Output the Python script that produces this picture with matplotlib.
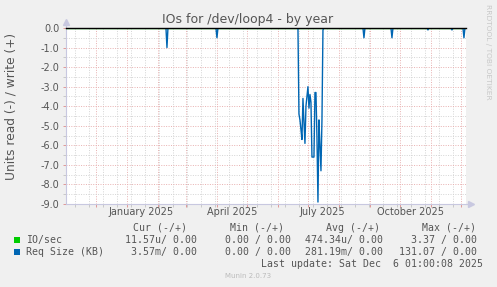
#IOs for /dev/loop4 - by year (munin style)

import numpy as np
import matplotlib.pyplot as plt

#data: daily values of the read side (drawn negative)
req_dates = ['2024-11-01', '2025-02-09', '2025-02-10', '2025-02-11',
             '2025-03-31', '2025-04-01', '2025-04-02',
             '2025-06-21', '2025-06-22', '2025-06-23', '2025-06-24', '2025-06-25',
             '2025-06-26', '2025-06-27', '2025-06-28', '2025-06-29', '2025-06-30',
             '2025-07-01', '2025-07-02', '2025-07-03', '2025-07-04', '2025-07-05',
             '2025-07-06', '2025-07-07', '2025-07-08', '2025-07-09', '2025-07-10',
             '2025-07-11', '2025-07-12', '2025-07-13', '2025-07-14', '2025-07-15',
             '2025-07-16', '2025-07-17',
             '2025-08-25', '2025-08-26', '2025-08-27',
             '2025-09-22', '2025-09-23', '2025-09-24',
             '2025-10-28', '2025-10-29', '2025-10-30',
             '2025-11-21', '2025-11-22', '2025-11-23',
             '2025-12-03', '2025-12-04', '2025-12-05']
req_read = [0.0, 0.0, -1.0, 0.0,
            0.0, -0.5, 0.0,
            0.0, -4.4, -4.7, -5.2, -5.7,
            -3.6, -4.8, -5.9, -4.0, -3.5,
            -3.0, -4.1, -3.4, -3.8, -6.6,
            -6.6, -6.6, -3.3, -3.3, -5.6,
            -8.9, -4.7, -6.0, -7.3, -4.7,
            -0.1, 0.0,
            0.0, -0.5, 0.0,
            0.0, -0.5, 0.0,
            0.0, -0.1, 0.0,
            0.0, -0.1, 0.0,
            0.0, -0.5, 0.0]
io_dates = ['2024-11-01', '2025-12-06']
io_read = [0.0, 0.0]

start = np.datetime64('2024-11-01T01:00')
end = np.datetime64('2025-12-06T01:00')

month_labels = ['January 2025', 'April 2025', 'July 2025', 'October 2025']
month_label_pos = ['2025-01-15', '2025-04-16', '2025-07-15', '2025-10-12']

legend_headers = ['Cur (-/+)', 'Min (-/+)', 'Avg (-/+)', 'Max (-/+)']
legend_names = ['IO/sec', 'Req Size (KB)']
legend_colors = ['#00CC00', '#0066B3']
legend_values = [['11.57u/ 0.00', '0.00 / 0.00', '474.34u/ 0.00', '3.37 / 0.00'],
                 ['3.57m/ 0.00', '0.00 / 0.00', '281.19m/ 0.00', '131.07 / 0.00']]

W, H = 497, 287
def fx(x):
    return x / W
def fy(y):
    return 1 - y / H

txt = '#555555'
red_grid = '#E8B0B0'
gray_grid = '#D4D4D4'
axis_col = '#C8C8E0'

fig = plt.figure(figsize=(W / 100, H / 100), dpi=100, facecolor='#F0F0F0')
ax = fig.add_axes([fx(66), fy(204), 400 / W, 176 / H])
ax.set_facecolor('white')

#lines
ax.plot(np.array(io_dates, dtype='datetime64[h]'), io_read, color=legend_colors[0], lw=1.0, zorder=3)
ax.plot(np.array(req_dates, dtype='datetime64[h]'), req_read, color=legend_colors[1], lw=1.0, zorder=4)
ax.axhline(0, color='black', lw=1.0, zorder=5, clip_on=False)

ax.set_xlim(start, end)
ax.set_ylim(-9, 0)

#grid: months red, every other sunday gray
months = np.arange(np.datetime64('2024-12'), np.datetime64('2026-01'), dtype='datetime64[M]').astype('datetime64[h]')
sundays = np.arange(np.datetime64('2024-11-10'), np.datetime64('2025-12-06'), np.timedelta64(14, 'D')).astype('datetime64[h]')
ax.set_xticks(months)
ax.set_xticklabels([])
ax.set_xticks(sundays, minor=True)

yt = np.arange(-9, 0.5, 1.0)
ax.set_yticks(yt)
ax.set_yticklabels(['%.1f' % v for v in yt])
ax.set_yticks(np.arange(-8.5, 0, 1.0), minor=True)

ax.grid(which='major', color=red_grid, linestyle=(0, (1, 1.5)), lw=0.7, zorder=1)
ax.grid(which='minor', color=gray_grid, linestyle=(0, (1, 1.5)), lw=0.7, zorder=0)
ax.set_axisbelow(True)

ax.tick_params(which='major', color='#E09898', length=2.5, width=0.7, labelsize=7, labelcolor=txt, pad=2)
ax.tick_params(which='minor', color='#C8C8C8', length=2, width=0.7)

for s in ['top', 'right']:
    ax.spines[s].set_visible(False)
for s in ['left', 'bottom']:
    ax.spines[s].set_color(axis_col)
    ax.spines[s].set_linewidth(0.8)

#axis arrows
ax.plot([0, 0], [1, 1.035], color=axis_col, lw=0.8, transform=ax.transAxes, clip_on=False)
ax.plot([0], [1.035], marker='^', ms=4, color=axis_col, transform=ax.transAxes, clip_on=False)
ax.plot([1, 1.012], [0, 0], color=axis_col, lw=0.8, transform=ax.transAxes, clip_on=False)
ax.plot([1.012], [0], marker='>', ms=4, color=axis_col, transform=ax.transAxes, clip_on=False)

#month labels
for lab, pos in zip(month_labels, month_label_pos):
    ax.text(np.datetime64(pos), -0.065, lab, transform=ax.get_xaxis_transform(),
            ha='center', va='baseline', fontsize=7, color=txt)

#titles
fig.text(fx(248), fy(19), 'IOs for /dev/loop4 - by year', ha='center', va='center', fontsize=9, color=txt)
fig.text(fx(11), fy(106), 'Units read (-) / write (+)', rotation=90, ha='center', va='center', fontsize=8.8, color=txt)
fig.text(fx(488), fy(52), 'RRDTOOL / TOBI OETIKER', rotation=-90, ha='center', va='center', fontsize=5.4, color='#C8C8C8')

#legend
mono = 'DejaVu Sans Mono'
head_right = [187, 284, 380, 476]
val_right = [197, 291, 383, 477]
for h, x in zip(legend_headers, head_right):
    fig.text(fx(x), fy(228), h, ha='right', va='center', fontsize=7.1, family=mono, color=txt)
row_y = [240, 252]
for i, name in enumerate(legend_names):
    y = row_y[i]
    fig.patches.append(plt.Rectangle((fx(14), fy(y + 3)), 6 / W, 6 / H, transform=fig.transFigure,
                                     facecolor=legend_colors[i], edgecolor='none'))
    fig.text(fx(26), fy(y), name, ha='left', va='center', fontsize=7.1, family=mono, color=txt)
    for v, x in zip(legend_values[i], val_right):
        fig.text(fx(x), fy(y), v, ha='right', va='center', fontsize=7.1, family=mono, color=txt)

fig.text(fx(483), fy(264), 'Last update: Sat Dec  6 01:00:08 2025', ha='right', va='center',
         fontsize=7.1, family=mono, color=txt)
fig.text(fx(248), fy(276), 'Munin 2.0.73', ha='center', va='center', fontsize=5, color='#BBBBBB')

fig.savefig('out.png', dpi=100, facecolor=fig.get_facecolor())
